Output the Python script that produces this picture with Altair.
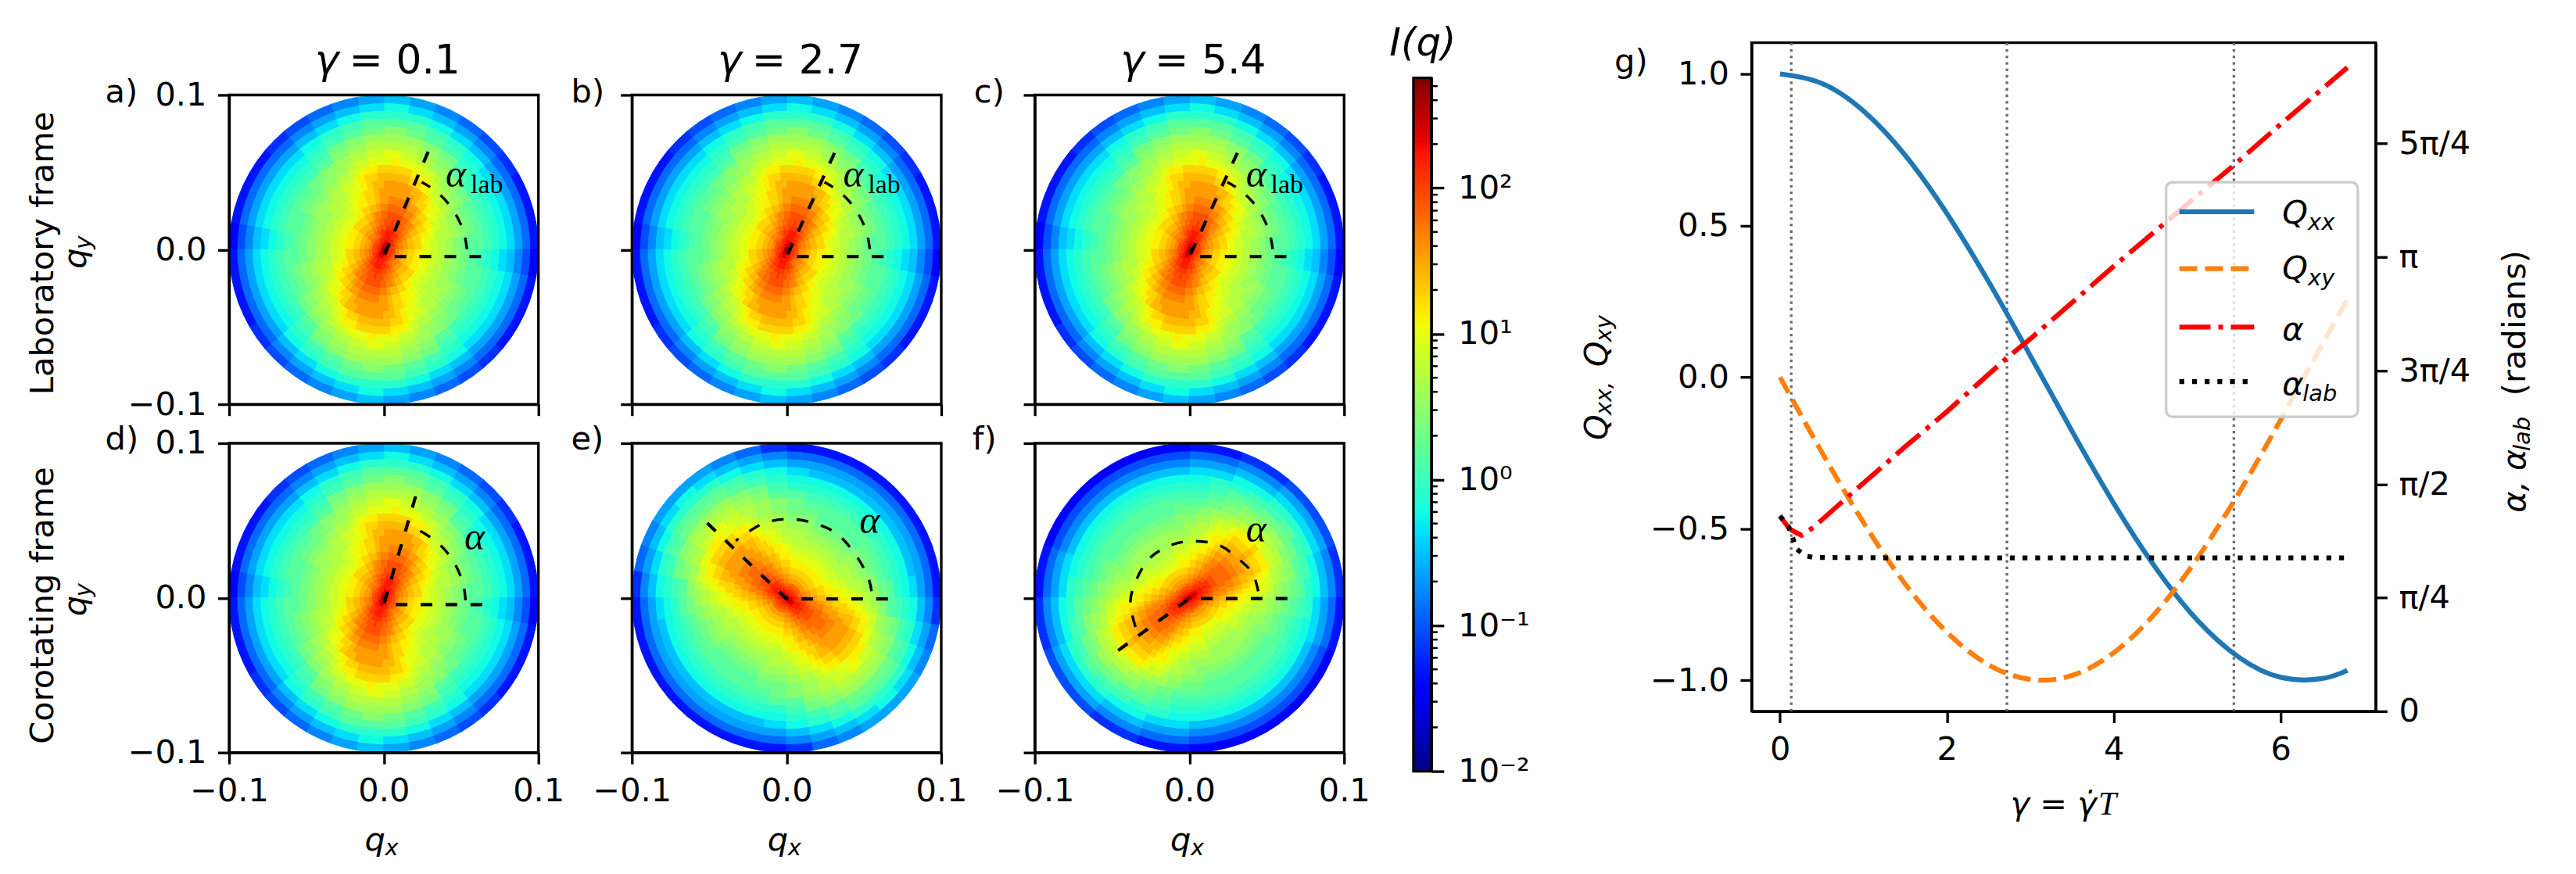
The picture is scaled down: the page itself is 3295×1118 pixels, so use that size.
"""Scattering intensity maps under shear, with the order parameter curves."""

import pandas as pd
import altair as alt

SANS = "DejaVu Sans"
SERIF = "Liberation Serif"
FS = 41.67
LW = 3.33
SIDE = 397

# colour levels: one string per ring, one char per sector
# from +x counter clockwise (base 36, 0 = bottom of colour bar, z = top).
# Only half a turn is kept, the maps repeat after 180 degrees.
ring_edges = [0, .002, .004, .006, .008, .010, .013, .016, .020, .025, .030, .035,
              .040, .045, .050, .055, .060, .065, .070, .075, .080, .085, .090, .095, .100]

levels_lab = [
    "yyyyzzzzzzyyyyyyyy",
    "vvvwwxxxxwwwvvvvvv",
    "uuuvvwwwwvvvuuuuuu",
    "ttuuvvvvvvuutttttt",
    "ssstuuvvvutssssrrr",
    "rrrrrssttuuuvv" "vvvuuuttssrrrrrqqqq" "qqq",
    "qqqqqrrsstttuu" "uuutttssrrqqqqqpppp" "ppp",
    "pppppqqrrssttt" "utttssrrqqpppppoooo" "ooo",
    "oooooppqrrsstt" "tttssrrqppooooonnnn" "nnn",
    "mmmnnooppqrrss" "sssrrqppoonnmmmmmmm" "mmm",
    "lllmmnnoopqqrr" "rrrqqpoonnmmlllllll" "lll",
    "kkkkllmmnoopqqq" "qqqqpoonmmllkkkkkkk" "kk",
    "jjkkkklmmnoppqq" "qqqpponmmlkkkkjjjjj" "jj",
    "iijjjjkkllmnoopp" "pppoonmllkkjjjjiiii" "i",
    "hhiiiijjkklmnnoo" "ooonnmlkkjjiiiihhhh" "h",
    "gghhhhiijjkllmmm" "nmmmllkjjiihhhhgggg" "g",
    "ggghijklmlkjihgggf",
    "ffffgijkkkjigffffe",
    "eeeefhijjjihfeeeed",
    "ddddefghihgfeddddc",
    "ccccdefgggfedccccb",
    "aaaabcdeeedcbaaaa9",
    "88889abcdcba988887",
    "5556789aba98765554",
]

levels_e = [
    "yyyyyyyyyyyzzzzzzy",
    "wvvvvvvvvvwwxxxxww",
    "vuuuuuuuuuvvwwwwvv",
    "utttttttttuuvvvvuu",
    "sssssssssstuuvvvut",
    "srrrqqqqqqq" "qqqqqqrrrssttuuuu" "v" "uuuutts",
    "rqqqppppppp" "ppppppqqqrrsstttt" "u" "ttttssr",
    "qpppooooooo" "oooooopppqqrrsstt" "t" "ttssrrq",
    "pooonnnnnnn" "nnnnnnoooppqrrsss" "s" "sssrrqp",
    "onnnmmmmmmm" "mmmmmmnnnoppqqrrs" "s" "srrqqpp",
    "nnmmlllllll" "llllllmmnnoopqqrr" "r" "rrqqpoo",
    "mmllkkkkkkk" "kkkkkkllmmnoopqqq" "q" "qqqpoon",
    "mlkkkkjjjjj" "jjjjkkkklmmnoppqq" "q" "qqpponm",
    "lkkjjjjiiii" "iiijjjjkkllmnoopp" "p" "ppoonml",
    "kjjiiiihhhh" "hhhiiiijjkklmnnoo" "o" "oonnmlk",
    "jiihhhhgggg" "ggghhhhiijjkllmmn" "n" "nmmllkj",
    "hggggggghijklmlkji",
    "gfffffffggijkkkjig",
    "eeeeeeeeefhijjjihf",
    "dddddddddefghhhgfe",
    "cbbbbbbbcdefgggfed",
    "aaaaaaaaabcdeeedcb",
    "8888888889abcdcba9",
    "555555555689aaa986",
]

levels_f = [
    "zzzzzzzyyyyyyyyyyy",
    "wwxxxxwwvvvvvvvvvw",
    "vvwwwwvvuuuuuuuuuv",
    "uuvvvvuutttttttttu",
    "tuvvvuutsssrrrrsss",
    "sttuuuu" "v" "uuuuttssrrrqqqqqqq" "qqqqqqrrrs",
    "rssttuu" "u" "uuttssrrqqqppppppp" "ppppppqqqr",
    "qrrsstt" "t" "ttssrrqqpppooooooo" "oooooopppq",
    "pqrrsss" "s" "sssrrqppoonnnnmmmm" "mmmnnnnoop",
    "opqrrss" "s" "ssrrqpoonnmmmmllll" "lllmmmmnno",
    "nopqqrr" "r" "rrqqponnmmllllkkkk" "kkkllllmmn",
    "mnoppqq" "q" "qqpponmmllkkkkjjjj" "jjjkkkkllm",
    "mnnoppp" "q" "ppponnmlkkjjjjjjjj" "jjjjjjjkkl",
    "lmmnooo" "p" "ooonmmlkkjjiiiiiii" "iiiiiijjkk",
    "kllmnnn" "o" "nnnmllkjjiiihhhhhh" "hhhhhiiijj",
    "jjkklll" "m" "lllkkjjiihhhgggggg" "ggggghhhii",
    "ijkkkjihgggggggggh",
    "hiijiihgfffffffffg",
    "gghhhggfeeeeeeeeef",
    "effgffeeddddddddde",
    "ddeeeddccbbbbbbbcc",
    "bbcccbbaa9999999aa",
    "99aaa9988777777788",
    "667776655444444455",
]

gamma_grid = [0, .5, 1, 1.5, 2, 2.5, 3, 3.5, 4, 4.5, 5, 5.5, 6, 6.5, 6.8]
qxx = [1, .969, .878, .732, .540, .315, .071, -.178, -.416, -.628, -.801, -.924, -.990, -.994, -.967]
qxy = [0, -.247, -.479, -.682, -.841, -.949, -.997, -.984, -.909, -.778, -.598, -.382, -.141, .108, .256]

alpha_gamma = [0, .1, .15, .26, .4, .8, 1.5, 2, 2.73, 3, 4, 5, 5.44, 6, 6.8]
alpha = [1.351, 1.272, 1.249, 1.217, 1.272, 1.477, 1.830, 2.073, 2.450, 2.576, 3.079, 3.566, 3.778, 4.061, 4.453]
alpha_lab_gamma = [0, .1, .2, .3, .4, 1.5, 3, 5, 6.8]
alpha_lab = [1.351, 1.28, 1.123, 1.076, 1.064, 1.061, 1.061, 1.061, 1.061]
strain_marks = [.135, 2.72, 5.44]

alpha_ticks = [0, .7854, 1.5708, 2.3562, 3.1416, 3.927]
q_ticks = [-.1, 0, .1]
cb_major = [.01, .1, 1, 10, 100]
cb_minor = [.02, .03, .04, .05, .06, .07, .08, .09, .2, .3, .4, .5, .6, .7, .8, .9,
            2, 3, 4, 5, 6, 7, 8, 9, 20, 30, 40, 50, 60, 70, 80, 90, 200, 300, 400, 500]

# ray end, origin, horizontal end of the dashed guides
ray_a = ([.0287, 0, .071], [.0633, -.0045, -.0045])
ray_bc = ([.031, 0, .071], [.0625, -.0045, -.0045])
ray_d = ([.0206, 0, .0703], [.0656, -.0043, -.0043])
ray_e = ([-.0513, 0, .0711], [.0484, -.0007, -.0007])
ray_f = ([-.0461, 0, .0709], [-.034, -.0004, -.0004])

arc_a = ([.0538, .0522, .0489, .0442, .0382, .0310, .0245], [.0002, .0095, .0183, .0265, .0337, .0397, .0436])
arc_d = ([.0529, .0512, .0459, .0375, .0265, .0199], [-.0015, .0094, .0222, .0332, .0416, .0448])
arc_e = ([.0549, .0522, .0432, .0315, .0162, .0009, -.0144, -.027, -.0328],
         [.0043, .0147, .0299, .0422, .0488, .051, .0484, .0412, .0369])
arc_f = ([.0445, .0409, .0329, .0194, .0032, -.0111, -.0255, -.0345, -.0382, -.0341],
         [.0043, .0157, .0242, .034, .0367, .0344, .0259, .0113, -.0038, -.0212])

jet_t = [0, .11, .125, .34, .35, .375, .64, .65, .66, .89, .91, 1]
jet_c = ["#00007f", "#0000ff", "#0000ff", "#00dbff", "#00e5f6", "#14ffe2",
         "#eeff08", "#f7f500", "#ffec00", "#ff1400", "#e80000", "#7f0000"]


def make_cells(rows):
    recs = []
    for i, row in enumerate(rows):
        step = 180 / len(row)
        for k, ch in enumerate(row + row):
            recs.append({"r0": ring_edges[i], "r1": ring_edges[i + 1], "t0": k * step, "t1": (k + 1) * step,
                         "level": int(ch, 36) / 35})
    return pd.DataFrame(recs)


def label(text, x, y, size=FS, style="normal", angle=0, align="left", font=SANS):
    return (
        alt.Chart(alt.Data(values=[{"a": 1}]))
        .mark_text(text=text, font=font, fontSize=size, fontStyle=style, angle=angle,
                   align=align, baseline="alphabetic", color="black")
        .encode(x=alt.value(x), y=alt.value(y))
    )


def bbox(left, right, top, bottom):
    # keeps each cell of the page grid at a known size
    return (
        alt.Chart(alt.Data(values=[{"a": 1}]))
        .mark_rect(opacity=0)
        .encode(x=alt.value(left), x2=alt.value(right), y=alt.value(top), y2=alt.value(bottom))
    )


def spacer():
    # every column starts with this, so that column origins line up at the page top
    return bbox(0, 1, 0, 10).properties(width=1, height=10)


def frame(w, h):
    return (
        alt.Chart(alt.Data(values=[{"a": 1}]))
        .mark_rect(fillOpacity=0, stroke="black", strokeWidth=LW)
        .encode(x=alt.value(0), x2=alt.value(w), y=alt.value(0), y2=alt.value(h))
    )


def panel(rows, ray, arc, texts, box, x_labels=False, y_labels=False):
    jet = alt.Scale(domain=jet_t, range=jet_c, interpolate="rgb")
    q_scale = alt.Scale(domain=[-.1, .1])
    cells = (
        alt.Chart(make_cells(rows))
        .mark_arc(strokeWidth=1, opacity=1)
        .encode(
            theta=alt.Theta("t0:Q", stack=False, scale=alt.Scale(domain=[0, 360], range=[7.854, 1.5708])),
            theta2="t1:Q",
            radius=alt.Radius("r1:Q", scale=alt.Scale(type="linear", domain=[0, .1], range=[0, SIDE / 2])),
            radius2="r0:Q",
            fill=alt.Fill("level:Q", scale=jet, legend=None),
            stroke=alt.Stroke("level:Q", scale=jet, legend=None),
        )
    )
    df_ray = pd.DataFrame({"x": ray[0], "y": ray[1], "i": range(len(ray[0]))})
    rays = (
        alt.Chart(df_ray)
        .mark_line(color="black", strokeWidth=4.2, strokeDash=[15, 17])
        .encode(
            x=alt.X("x:Q", title=None, scale=q_scale,
                    axis=alt.Axis(values=q_ticks, format=".1f", labels=x_labels)),
            y=alt.Y("y:Q", title=None, scale=q_scale,
                    axis=alt.Axis(values=q_ticks, format=".1f", labels=y_labels)),
            order="i:Q",
        )
    )
    df_arc = pd.DataFrame({"x": arc[0], "y": arc[1], "i": range(len(arc[0]))})
    arcs = (
        alt.Chart(df_arc)
        .mark_line(color="black", strokeWidth=3.4, strokeDash=[15, 17], interpolate="cardinal")
        .encode(x=alt.X("x:Q", scale=q_scale), y=alt.Y("y:Q", scale=q_scale), order="i:Q")
    )
    return alt.layer(cells, frame(SIDE, SIDE), rays, arcs, *texts, bbox(*box)).properties(width=SIDE, height=SIDE)


def alpha_label(x, y):
    return [label("α", x, y, 50, "italic", font=SERIF), label("lab", x + 32, y + 8, 34, font=SERIF)]


def title_parts(value):
    return [label("γ", 110, -28, 52, "italic"), label("= " + value, 154, -28, 52)]


def qx_title():
    return [label("q", 174, SIDE + 126, FS, "italic"), label("x", 200, SIDE + 132, 29, "italic")]


def qy_title(y_start):
    return [label("q", 110 - 294, y_start, FS, "italic", 270), label("y", 116 - 294, y_start - 25, 29, "italic", 270)]


panel_a = panel(
    levels_lab, ray_a, arc_a,
    alpha_label(278, 118) + title_parts("0.1") + qy_title(223)
    + [label("a)", -159, 10), label("Laboratory frame", 68 - 294, 385, angle=270)],
    (-286, SIDE + 40, -102, SIDE + 25), y_labels=True,
)
panel_b = panel(
    levels_lab, ray_bc, arc_a,
    alpha_label(271, 118) + title_parts("2.7") + [label("b)", -78, 10)],
    (-80, SIDE + 40, -102, SIDE + 25),
)
panel_c = panel(
    levels_lab, ray_bc, arc_a,
    alpha_label(271, 118) + title_parts("5.4") + [label("c)", -78, 10)],
    (-80, SIDE + 40, -102, SIDE + 25),
)
panel_d = panel(
    levels_lab, ray_d, arc_d,
    [label("α", 302, 136, 50, "italic", font=SERIF), label("d)", -159, 8),
     label("Corotating frame", 68 - 294, 386, angle=270)] + qy_title(222) + qx_title(),
    (-286, SIDE + 40, -25, SIDE + 146), x_labels=True, y_labels=True,
)
panel_e = panel(
    levels_e, ray_e, arc_e,
    [label("α", 292, 115, 50, "italic", font=SERIF), label("e)", -78, 8)] + qx_title(),
    (-80, SIDE + 40, -25, SIDE + 146), x_labels=True,
)
panel_f = panel(
    levels_f, ray_f, arc_f,
    [label("α", 271, 126, 50, "italic", font=SERIF), label("f)", -80, 8)] + qx_title(),
    (-80, SIDE + 40, -25, SIDE + 146), x_labels=True,
)

# colour bar
cb_h = 890
cb_scale = alt.Scale(type="log", domain=[.01, 570])
cb_fill = alt.Gradient(
    gradient="linear", x1=0, x2=0, y1=1, y2=0,
    stops=[alt.GradientStop(color=c, offset=t) for t, c in zip(jet_t, jet_c)],
)
cb_bar = (
    alt.Chart(pd.DataFrame({"lo": [.01], "hi": [570]}))
    .mark_rect(fill=cb_fill)
    .encode(
        y=alt.Y(
            "lo:Q", title=None, scale=cb_scale,
            axis=alt.Axis(
                orient="right", values=cb_major, tickSize=16, labelPadding=18,
                labelExpr="['10⁻²','10⁻¹','10⁰','10¹','10²'][round(log(datum.value)/LN10)+2]",
            ),
        ),
        y2="hi:Q",
    )
)
cb_ticks = (
    alt.Chart(pd.DataFrame({"v": cb_minor}))
    .mark_rule(color="black", strokeWidth=2.5)
    .encode(y=alt.Y("v:Q", scale=cb_scale), x=alt.value(23), x2=alt.value(31))
)
colorbar = alt.layer(
    cb_bar, frame(23, cb_h), cb_ticks,
    label("I(q)", 12, -29, 50, "italic", align="center"),
    bbox(-49, 216, -80, cb_h + 122),
).properties(width=23, height=cb_h)

# panel g
g_w, g_h = 801, 858
x_scale = alt.Scale(domain=[-.34, 7.14])
q_scale_g = alt.Scale(domain=[-1.102, 1.103])
a_scale = alt.Scale(domain=[0, 4.625])
x_enc = alt.X("x:Q", title=None, scale=x_scale, axis=alt.Axis(values=[0, 2, 4, 6], format="d"))

marks = (
    alt.Chart(pd.DataFrame({"x": strain_marks}))
    .mark_rule(color="#6a6a6a", strokeWidth=3.3, strokeDash=[3.3, 5])
    .encode(x=x_enc)
)
line_qxx = (
    alt.Chart(pd.DataFrame({"x": gamma_grid, "y": qxx}))
    .mark_line(color="#1f77b4", strokeWidth=6.25, interpolate="natural")
    .encode(x=x_enc, y=alt.Y("y:Q", title=None, scale=q_scale_g,
                             axis=alt.Axis(values=[-1, -.5, 0, .5, 1], format=".1f")))
)
line_qxy = (
    alt.Chart(pd.DataFrame({"x": gamma_grid, "y": qxy}))
    .mark_line(color="#ff7f0e", strokeWidth=6.25, strokeDash=[23, 10], interpolate="natural")
    .encode(x=x_enc, y=alt.Y("y:Q", title=None, scale=q_scale_g, axis=None))
)
line_alpha = (
    alt.Chart(pd.DataFrame({"x": alpha_gamma, "y": alpha}))
    .mark_line(color="#ff0000", strokeWidth=6.25, strokeDash=[40, 10, 6, 10])
    .encode(x=x_enc, y=alt.Y("y:Q", title=None, scale=a_scale,
                             axis=alt.Axis(
                                 orient="right", values=alpha_ticks,
                                 labelExpr="['0','π/4','π/2','3π/4','π','5π/4'][round(datum.value/0.7854)]",
                             )))
)
line_alab = (
    alt.Chart(pd.DataFrame({"x": alpha_lab_gamma, "y": alpha_lab}))
    .mark_line(color="black", strokeWidth=6.25, strokeDash=[6.25, 10])
    .encode(x=x_enc, y=alt.Y("y:Q", title=None, scale=a_scale, axis=None))
)
legend_box = (
    alt.Chart(alt.Data(values=[{"a": 1}]))
    .mark_rect(fill="white", fillOpacity=.8, stroke="#cccccc", strokeWidth=3.3, cornerRadius=8)
    .encode(x=alt.value(532), x2=alt.value(778), y=alt.value(179), y2=alt.value(480))
)


def legend_line(y, color, dash):
    return (
        alt.Chart(alt.Data(values=[{"a": 1}]))
        .mark_rule(color=color, strokeWidth=6.25, strokeDash=dash)
        .encode(x=alt.value(549), x2=alt.value(645), y=alt.value(y))
    )


panel_g = alt.layer(
    frame(g_w, g_h), marks, line_qxx, line_qxy, line_alpha, line_alab, legend_box,
    legend_line(217, "#1f77b4", [1, 0]),
    legend_line(290, "#ff7f0e", [23, 10]),
    legend_line(365, "#ff0000", [40, 10, 6, 10]),
    legend_line(435, "black", [6.25, 10]),
    label("Q", 681, 232, FS, "italic"), label("xx", 714, 240, 29, "italic"),
    label("Q", 681, 303, FS, "italic"), label("xy", 714, 311, 29, "italic"),
    label("α", 681, 382, FS, "italic"),
    label("α", 681, 452, FS, "italic"), label("lab", 707, 460, 29, "italic"),
    label("g)", -176, 37),
    label("γ = γ̇", 332, 991, FS, "italic"), label("T", 445, 991, FS, "italic", font=SERIF),
    label("Q", -185, 510, FS, "italic", 270), label("xx,", -180, 478, 29, "italic", 270),
    label("Q", -185, 416, FS, "italic", 270), label("xy", -180, 384, 29, "italic", 270),
    label("α, α", 993, 603, FS, "italic", 270), label("lab", 999, 524, 29, "italic", 270),
    label("(radians)", 993, 453, FS, angle=270),
    bbox(-210, g_w + 249, -35, g_h + 199),
).resolve_scale(y="independent").properties(width=g_w, height=g_h)

col_1 = alt.vconcat(spacer(), panel_a, panel_d, spacing=0)
col_2 = alt.vconcat(spacer(), panel_b, panel_e, spacing=0)
col_3 = alt.vconcat(spacer(), panel_c, panel_f, spacing=0)
col_4 = alt.vconcat(spacer(), colorbar, spacing=0)
col_5 = alt.vconcat(spacer(), panel_g, spacing=0)

chart = (
    alt.hconcat(col_1, col_2, col_3, col_4, col_5, spacing=0)
    .properties(padding=0, background="white")
    .configure_view(strokeWidth=0)
    .configure_axis(
        grid=False, domainColor="black", domainWidth=LW, tickColor="black", tickWidth=LW,
        tickSize=14.6, labelFont=SANS, labelFontSize=FS, labelColor="black",
        labelPadding=14.6, labelOverlap=False, labelFlush=False,
    )
)
chart.save("out.html", embed_options={"renderer": "svg", "actions": False})
